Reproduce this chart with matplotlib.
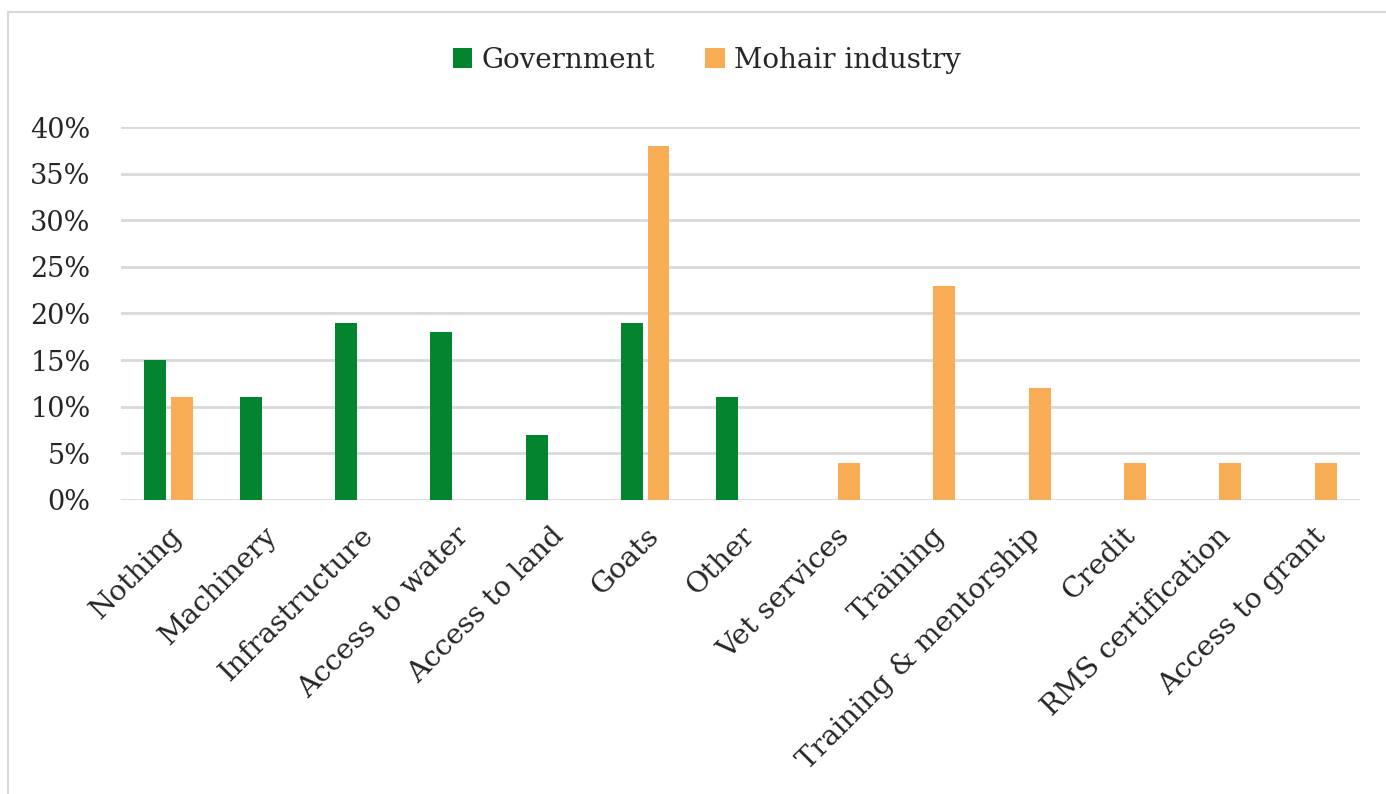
import numpy as np
import matplotlib.pyplot as plt
from matplotlib.patches import Rectangle
from matplotlib.ticker import FuncFormatter

categories = ["Nothing", "Machinery", "Infrastructure", "Access to water",
              "Access to land", "Goats", "Other", "Vet services", "Training",
              "Training & mentorship", "Credit", "RMS certification",
              "Access to grant"]
government = [15, 11, 19, 18, 7, 19, 11, 0, 0, 0, 0, 0, 0]
mohair = [11, 0, 0, 0, 0, 38, 0, 4, 23, 12, 4, 4, 4]

green = "#03852F"
orange = "#F8AC53"
plt.rcParams['font.family'] = ['DejaVu Serif']

fig = plt.figure(figsize=(13.86, 7.94), dpi=100)
ax = fig.add_axes([121 / 1386, 1 - 500 / 794, (1360 - 121) / 1386, (500 - 127) / 794])

x = np.arange(len(categories))
w = 0.23
gap = 0.05
ax.bar(x - (w + gap) / 2, government, w, color=green, label="Government", zorder=3)
ax.bar(x + (w + gap) / 2, mohair, w, color=orange, label="Mohair industry", zorder=3)

ax.set_xlim(-0.5, len(categories) - 0.5)
ax.set_ylim(0, 40)
ax.set_yticks(range(0, 41, 5))
ax.yaxis.set_major_formatter(FuncFormatter(lambda v, p: f"{int(v)}%"))
ax.grid(axis="y", color="#D9D9D9", linewidth=2, zorder=0)
ax.set_axisbelow(True)
for s in ax.spines.values():
    s.set_visible(False)
ax.tick_params(axis="both", length=0, labelsize=19.5, colors="#262626")
ax.tick_params(axis="y", pad=22)
ax.set_xticks(x)
ax.set_xticklabels(categories, rotation=45, ha="right", rotation_mode="anchor",
                   fontsize=20.5)
ax.tick_params(axis="x", pad=16)

fig.legend(loc="center", bbox_to_anchor=(707 / 1386, 1 - 60 / 794), ncol=2,
           frameon=False, fontsize=20, handlelength=0.7, handleheight=0.7,
           columnspacing=1.8, handletextpad=0.35, labelcolor="#262626")

# chart area border
fig.patches.append(Rectangle((8 / 1386, -0.1), 1.2, 1 - 12 / 794 + 0.1,
                             transform=fig.transFigure, fill=False,
                             edgecolor="#D9D9D9", linewidth=1.5))

fig.savefig("out.png", dpi=100)
